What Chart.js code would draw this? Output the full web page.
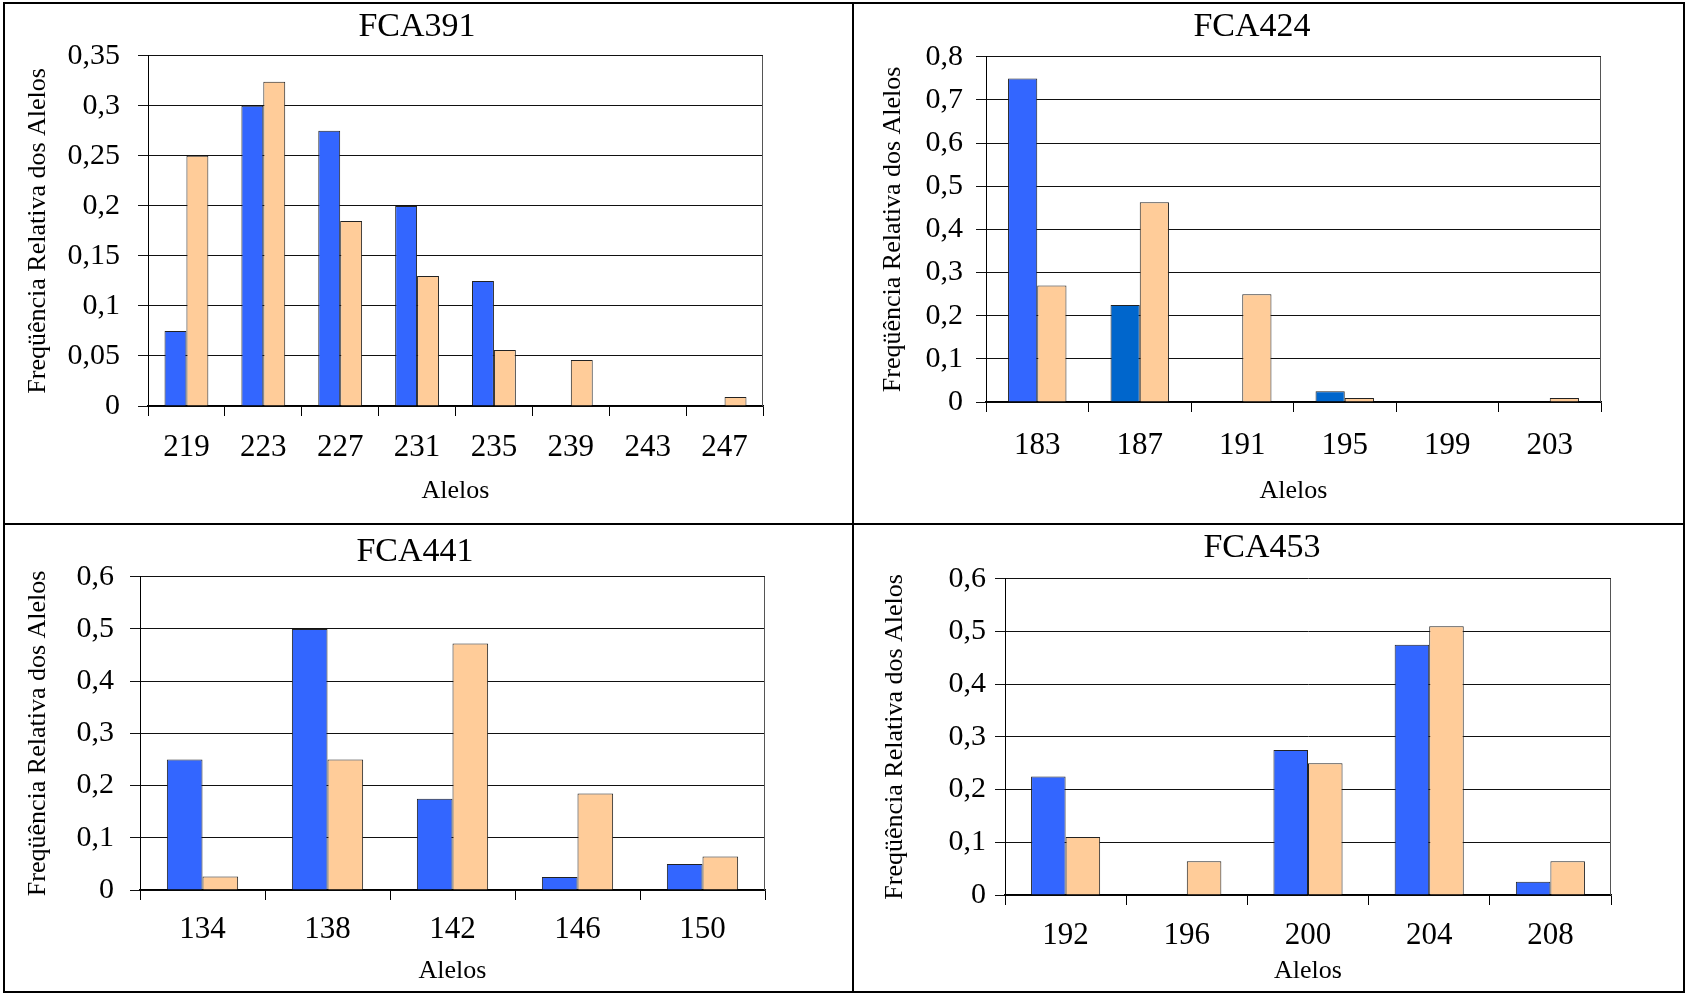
<!DOCTYPE html>
<html lang="pt">
<head>
<meta charset="utf-8">
<title>Frequência relativa dos alelos</title>
<script src="https://cdn.jsdelivr.net/npm/chart.js@4.4.1/dist/chart.umd.min.js"></script>
<style>
body { margin: 0; background: #fff; width: 1686px; height: 994px; position: relative; overflow: hidden; }
#outer { position: absolute; left: 3px; top: 2px; width: 1678px; height: 987px; border: 2px solid #000; }
#vline { position: absolute; left: 852px; top: 2px; width: 2px; height: 991px; background: #000; }
#hline { position: absolute; left: 3px; top: 523px; width: 1682px; height: 2px; background: #000; }
canvas { position: absolute; }
</style>
</head>
<body>
<div id="outer"></div>
<div id="vline"></div>
<div id="hline"></div>
<canvas id="c391" width="847" height="519" style="left:5px;top:4px"></canvas>
<canvas id="c424" width="829" height="519" style="left:854px;top:4px"></canvas>
<canvas id="c441" width="847" height="466" style="left:5px;top:525px"></canvas>
<canvas id="c453" width="829" height="466" style="left:854px;top:525px"></canvas>
<script>
// FCA391
const alleles391 = ['219', '223', '227', '231', '235', '239', '243', '247'];
const blue391 = [0.075, 0.3, 0.275, 0.2, 0.125, 0, 0, 0];
const orange391 = [0.25, 0.324, 0.185, 0.13, 0.056, 0.046, 0, 0.009];
const yTicks391 = [0, 0.05, 0.1, 0.15, 0.2, 0.25, 0.3, 0.35];
const yLabels391 = ['0', '0,05', '0,1', '0,15', '0,2', '0,25', '0,3', '0,35'];

// FCA424
const alleles424 = ['183', '187', '191', '195', '199', '203'];
const blue424 = [0.75, 0.225, 0, 0.025, 0, 0];
const orange424 = [0.27, 0.463, 0.25, 0.009, 0, 0.009];
const yTicks424 = [0, 0.1, 0.2, 0.3, 0.4, 0.5, 0.6, 0.7, 0.8];
const yLabels424 = ['0', '0,1', '0,2', '0,3', '0,4', '0,5', '0,6', '0,7', '0,8'];

// FCA441
const alleles441 = ['134', '138', '142', '146', '150'];
const blue441 = [0.25, 0.5, 0.175, 0.025, 0.05];
const orange441 = [0.026, 0.25, 0.472, 0.185, 0.064];
const yTicks441 = [0, 0.1, 0.2, 0.3, 0.4, 0.5, 0.6];
const yLabels441 = ['0', '0,1', '0,2', '0,3', '0,4', '0,5', '0,6'];

// FCA453
const alleles453 = ['192', '196', '200', '204', '208'];
const blue453 = [0.225, 0, 0.275, 0.475, 0.025];
const orange453 = [0.11, 0.064, 0.25, 0.51, 0.064];
const yTicks453 = [0, 0.1, 0.2, 0.3, 0.4, 0.5, 0.6];
const yLabels453 = ['0', '0,1', '0,2', '0,3', '0,4', '0,5', '0,6'];

const serif = 'Liberation Serif, Times New Roman, serif';
const BLUE = '#3366FF';
const DARKBLUE = '#0066CC';
const ORANGE = '#FFCC99';

// linha do lado direito da área do gráfico (como no Excel)
const rightEdge = {
    id: 'rightEdge',
    afterDraw(chart) {
        const {ctx, chartArea} = chart;
        ctx.save();
        ctx.strokeStyle = '#555';
        ctx.lineWidth = 1;
        ctx.beginPath();
        ctx.moveTo(chartArea.right - 0.5, chartArea.top);
        ctx.lineTo(chartArea.right - 0.5, chartArea.bottom);
        ctx.stroke();
        ctx.restore();
    }
};

function makeChart(id, title, labels, blue, orange, yTicks, yLabels, box, blueColors)
{
    const ctx = document.getElementById(id).getContext('2d');
    return new Chart(ctx, {
        type: 'bar',
        data: {
            labels: labels,
            datasets: [{
                label: 'Série 1',
                data: blue,
                backgroundColor: blueColors || BLUE,
                borderColor: '#222',
                borderWidth: 1,
                categoryPercentage: 0.57,
                barPercentage: 1
            }, {
                label: 'Série 2',
                data: orange,
                backgroundColor: ORANGE,
                borderColor: '#222',
                borderWidth: 1,
                categoryPercentage: 0.57,
                barPercentage: 1
            }]
        },
        options: {
            responsive: false,
            animation: false,
            layout: {
                padding: {left: 0, top: 0, right: box.padRight, bottom: 0}
            },
            plugins: {
                legend: {display: false},
                tooltip: {enabled: false},
                title: {
                    display: true,
                    text: title,
                    color: '#000',
                    font: {family: serif, size: 34, weight: 'normal'},
                    padding: {top: box.titleTop, bottom: box.titleBottom}
                }
            },
            scales: {
                x: {
                    afterFit: s => { s.height = box.xHeight; },
                    ticks: {
                        color: '#000',
                        font: {family: serif, size: 31},
                        padding: box.tickPadX,
                        maxRotation: 0,
                        autoSkip: false
                    },
                    grid: {
                        offset: true,
                        drawOnChartArea: false,
                        tickLength: 10,
                        color: '#000'
                    },
                    border: {color: '#000', width: 1.5},
                    title: {
                        display: true,
                        text: 'Alelos',
                        color: '#000',
                        font: {family: serif, size: 26},
                        padding: {top: 0, bottom: box.xTitlePad}
                    }
                },
                y: {
                    min: yTicks[0],
                    max: yTicks[yTicks.length - 1],
                    afterFit: s => { s.width = box.yWidth; },
                    afterBuildTicks: s => { s.ticks = yTicks.map(v => ({value: v})); },
                    ticks: {
                        color: '#000',
                        font: {family: serif, size: 30},
                        padding: box.tickPadY,
                        callback: (v, i) => yLabels[i]
                    },
                    grid: {color: '#111', lineWidth: 1, tickLength: 10},
                    border: {color: '#000', width: 1},
                    title: {
                        display: true,
                        text: 'Freqüência Relativa dos Alelos',
                        color: '#000',
                        font: {family: serif, size: 26},
                        padding: {top: box.yTitlePad, bottom: 0}
                    }
                },
                // espaço vazio à direita, só para afastar a área do gráfico do título
                margem: {
                    type: 'linear',
                    position: 'right',
                    afterFit: s => { s.width = box.rightGap; },
                    ticks: {display: false},
                    grid: {display: false},
                    border: {display: false}
                }
            }
        },
        plugins: [rightEdge]
    });
}

makeChart('c391', 'FCA391', alleles391, blue391, orange391, yTicks391, yLabels391,
    {yWidth: 143, xHeight: 117, padRight: 23, rightGap: 66, titleTop: 3, titleBottom: 8,
     tickPadX: 13, tickPadY: 18, xTitlePad: 16, yTitlePad: 18});

makeChart('c424', 'FCA424', alleles424, blue424, orange424, yTicks424, yLabels424,
    {yWidth: 132, xHeight: 121, padRight: 33, rightGap: 49, titleTop: 3, titleBottom: 9,
     tickPadX: 15, tickPadY: 13, xTitlePad: 16, yTitlePad: 24},
    [BLUE, DARKBLUE, BLUE, DARKBLUE, BLUE, BLUE]);

makeChart('c441', 'FCA441', alleles441, blue441, orange441, yTicks441, yLabels441,
    {yWidth: 135, xHeight: 101, padRight: 27, rightGap: 60, titleTop: 7, titleBottom: 4,
     tickPadX: 11, tickPadY: 16, xTitlePad: 4, yTitlePad: 18});

makeChart('c453', 'FCA453', alleles453, blue453, orange453, yTicks453, yLabels453,
    {yWidth: 151, xHeight: 96, padRight: 13, rightGap: 59, titleTop: 3, titleBottom: 10,
     tickPadX: 12, tickPadY: 9, xTitlePad: 4, yTitlePad: 26});
</script>
</body>
</html>
